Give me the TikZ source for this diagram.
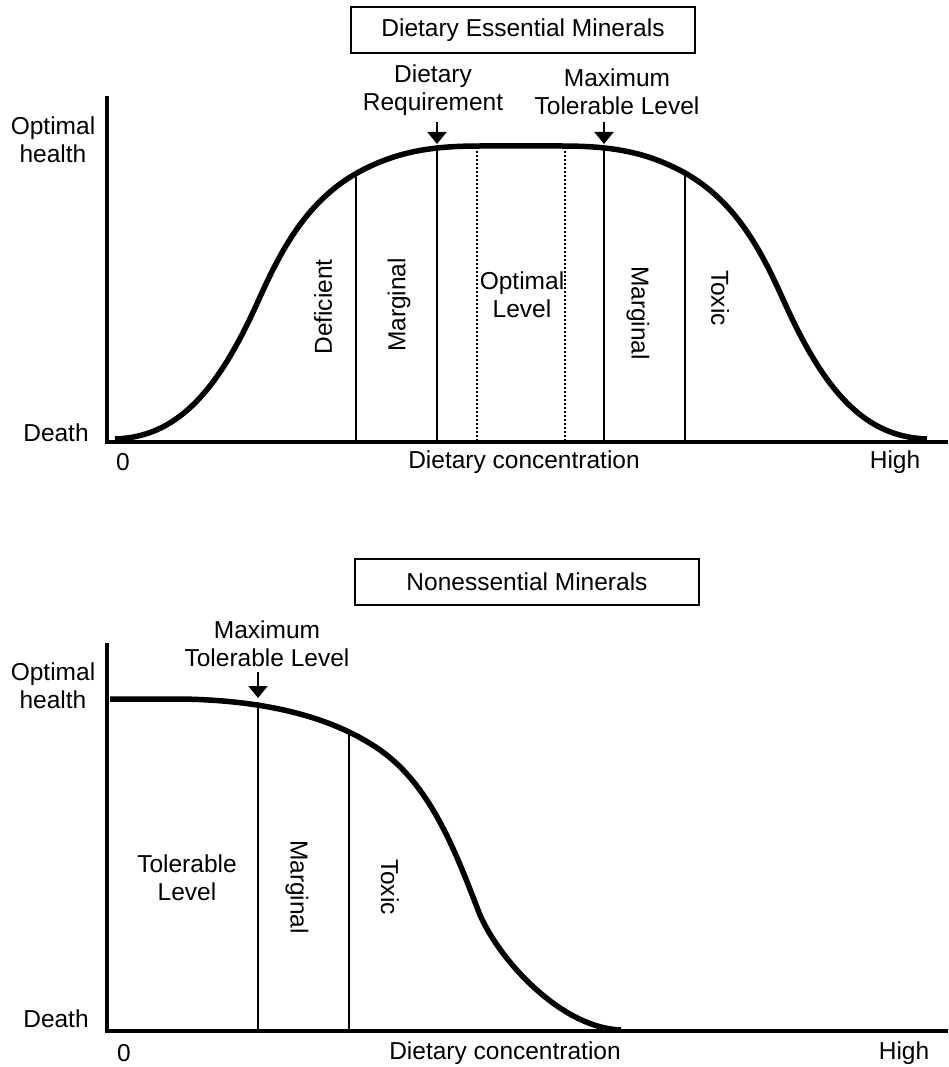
\documentclass[tikz,border=0pt]{standalone}
\usepackage{fontspec}
\setmainfont{Liberation Sans}
\usetikzlibrary{arrows.meta}
\begin{document}
\begin{tikzpicture}[x=1pt,y=-1pt,
  lbl/.style={inner sep=0pt,align=center,font=\fontsize{24.5}{28}\selectfont},
  axis/.style={line width=4pt,line cap=rect},
  curve/.style={line width=5.5pt,line join=round},
  thinv/.style={line width=1.4pt},
  medv/.style={line width=2pt},
  dotv/.style={line width=2pt,dash pattern=on 2pt off 2pt},
  titlebox/.style={draw,line width=2pt,minimum width=344pt,minimum height=46pt,inner sep=0pt,font=\fontsize{24.5}{28}\selectfont},
  pointer/.style={line width=2pt,-{Triangle[width=19pt,length=12pt]}}]
\useasboundingbox (0,0) rectangle (948,1067);
% ---------------- top plot ----------------
\node[titlebox] (t1) at (523,30) {Dietary Essential Minerals};
\draw[axis] (107,98) -- (107,442) -- (946,442);
\draw[curve] (115,439) .. controls (175,437) and (215,395) .. (255,308)
  .. controls (275,264) and (300,205) .. (357,173)
  .. controls (395,152) and (430,146) .. (480,146)
  -- (562,146)
  .. controls (612,146) and (647,152) .. (685,173)
  .. controls (742,205) and (767,264) .. (787,308)
  .. controls (827,395) and (867,437) .. (927,439);
\coordinate (a1) at (356,174); \coordinate (a1b) at (356,442);
\coordinate (a2) at (437,148); \coordinate (a2b) at (437,442);
\coordinate (a3) at (477,147); \coordinate (a3b) at (477,442);
\coordinate (a4) at (565,147); \coordinate (a4b) at (565,442);
\coordinate (a5) at (604,148); \coordinate (a5b) at (604,442);
\coordinate (a6) at (685,174); \coordinate (a6b) at (685,442);
\draw[thinv] (a1) -- (a1b);
\draw[medv] (a2) -- (a2b);
\draw[dotv] (a3) -- (a3b);
\draw[dotv] (a4) -- (a4b);
\draw[medv] (a5) -- (a5b);
\draw[thinv] (a6) -- (a6b);
\coordinate (p1) at (437,122); \coordinate (p2) at (604,122);
\coordinate (q1) at (437,144); \coordinate (q2) at (604,144);
\draw[pointer] (p1) -- (q1);
\draw[pointer] (p2) -- (q2);
\node[lbl] (dr) at (433,90) {Dietary\\Requirement};
\node[lbl] (mtl1) at (617,92) {Maximum\\Tolerable Level};
\node[lbl] (oh1) at (53,140) {Optimal\\health};
\node[lbl] (d1) at (56,433) {Death};
\node[lbl] (z1) at (123,462) {0};
\node[lbl] (dc1) at (524,462) {Dietary concentration};
\node[lbl] (h1) at (895,462) {High};
\node[lbl,rotate=90] (def) at (323,307) {Deficient};
\node[lbl,rotate=90] (mar1) at (399,305) {Marginal};
\node[lbl] (opt) at (522,295) {Optimal\\Level};
\node[lbl,rotate=-90] (mar2) at (638,313) {Marginal};
\node[lbl,rotate=-90] (tox1) at (720,298) {Toxic};
% ---------------- bottom plot ----------------
\node[titlebox] (t2) at (527,582) {Nonessential Minerals};
\draw[axis] (107,645) -- (107,1031) -- (946,1031);
\draw[curve] (110,699) -- (180,699)
  .. controls (260,700) and (330,715) .. (380,750)
  .. controls (430,785) and (455,850) .. (478,910)
  .. controls (496,957) and (560,1028) .. (621,1030);
\coordinate (b1) at (258,702); \coordinate (b1b) at (258,1031);
\coordinate (b2) at (349,731); \coordinate (b2b) at (349,1031);
\draw[medv] (b1) -- (b1b);
\draw[thinv] (b2) -- (b2b);
\coordinate (p3) at (258,672); \coordinate (q3) at (258,698);
\draw[pointer] (p3) -- (q3);
\node[lbl] (mtl2) at (267,644) {Maximum\\Tolerable Level};
\node[lbl] (tl) at (187,878) {Tolerable\\Level};
\node[lbl,rotate=-90] (mar3) at (297,887) {Marginal};
\node[lbl,rotate=-90] (tox2) at (390,887) {Toxic};
\node[lbl] (oh2) at (53,686) {Optimal\\health};
\node[lbl] (d2) at (56,1019) {Death};
\node[lbl] (z2) at (124,1053) {0};
\node[lbl] (dc2) at (505,1053) {Dietary concentration};
\node[lbl] (h2) at (904,1053) {High};
\end{tikzpicture}
\end{document}
